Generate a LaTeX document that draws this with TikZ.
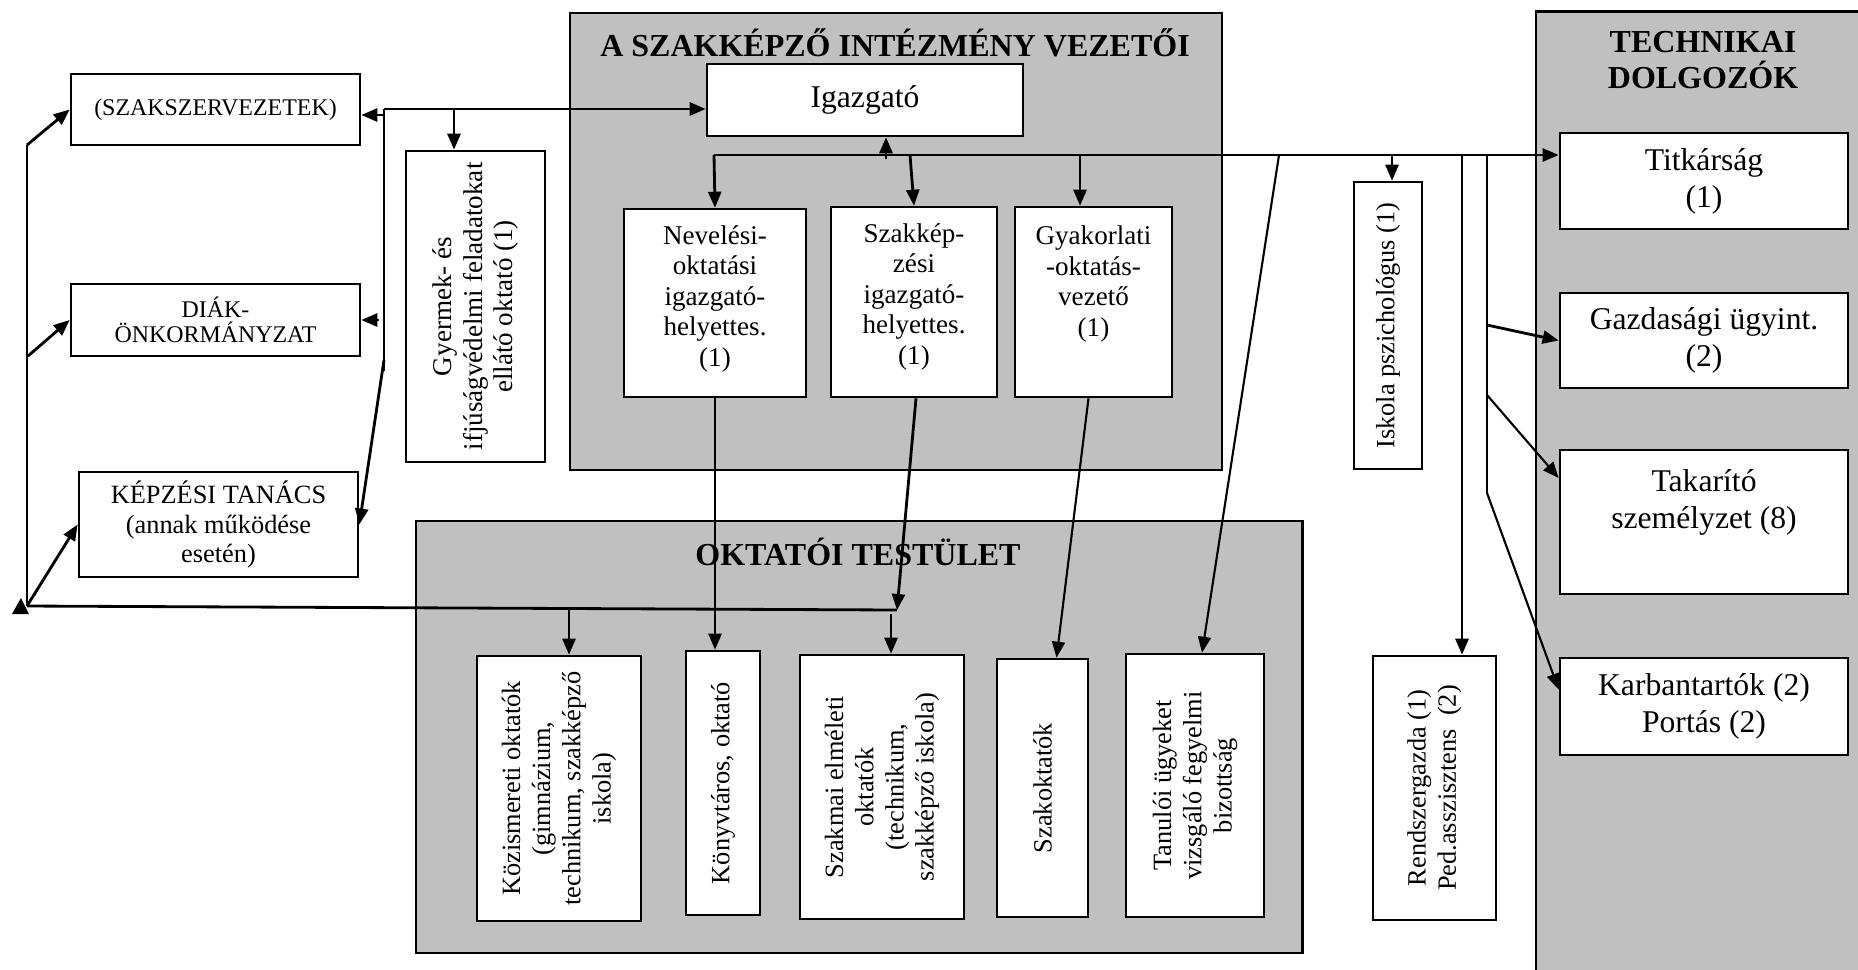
\documentclass[tikz,border=0pt]{standalone}
\usepackage{fontspec}
\setmainfont{Liberation Serif}
\usepackage{xcolor}
\definecolor{cPanel}{HTML}{C0C0C0}
\definecolor{cLine}{HTML}{000000}
\usepackage{tikz}
\usetikzlibrary{arrows.meta,calc}
\newcommand\fsSmall{\fontsize{6.8pt}{7.1pt}\selectfont}
\newcommand\fsKepz{\fontsize{7.5pt}{8.5pt}\selectfont}
\newcommand\fsMid{\fontsize{7.7pt}{8.65pt}\selectfont}
\newcommand\fsRot{\fontsize{7.5pt}{8.6pt}\selectfont}
\newcommand\fsBig{\fontsize{9pt}{10.5pt}\selectfont}
\newcommand\fsTitle{\fontsize{9.1pt}{10.2pt}\selectfont}
\tikzset{
  node-box/.style={draw=cLine,line width=0.7pt,fill=white,align=center,
    inner sep=0pt},
  node-panel/.style={draw=cLine,line width=0.7pt,fill=cPanel,inner sep=0pt},
  node-title/.style={font=\fsTitle\bfseries,align=center},
  % rotated boxes: with rotate=90 the page top is .east, the page bottom .west
  node-rot/.style={node-box,rotate=90,font=\fsRot},
  arrow/.style={-{Triangle[length=1.6mm,width=1.3mm]},line width=0.8pt,draw=cLine},
  line/.style={line width=0.8pt,draw=cLine},
}

\begin{document}
\begin{tikzpicture}[x=0.01cm,y=-0.01cm]
  \useasboundingbox (0,0) rectangle (1858,969);
  \clip (0,0) rectangle (1858,969);

  % panels
  \node[node-panel,minimum width=6.52cm,minimum height=4.57cm] (vez)  at (896,241.5) {};
  \node[node-panel,minimum width=8.86cm,minimum height=4.32cm] (okt)  at (859,737) {};
  \node[node-panel,minimum width=3.44cm,minimum height=9.78cm] (tech) at (1708,501) {};
  \node[node-title] (vez-title)  at (895,43)  {A SZAKKÉPZŐ INTÉZMÉNY VEZETŐI};
  \node[node-title] (okt-title)  at (858,552) {OKTATÓI TESTÜLET};
  \node[node-title] (tech-title) at (1703,60) {TECHNIKAI\\DOLGOZÓK};

  % left column
  \node[node-box,font=\fsSmall,minimum width=2.89cm,minimum height=0.71cm] (szak) at (215.5,109.5) {(SZAKSZERVEZETEK)};
  \node[node-box,font=\fsSmall,minimum width=2.89cm,minimum height=0.72cm] (diak) at (215.5,320) {DIÁK-\\ÖNKORMÁNYZAT};
  \node[node-box,font=\fsKepz,minimum width=2.79cm,minimum height=1.05cm] (kepz) at (218.5,524.5) {KÉPZÉSI TANÁCS\\(annak működése\\esetén)};
  \node[node-rot,font=\fsMid,minimum width=3.11cm,minimum height=1.39cm] (gyer) at (475.5,306.5) {Gyermek- és\\ifjúságvédelmi feladatokat\\ellátó oktató (1)};

  % leaders (text height/depth measured from the last line)
  \node[node-box,font=\fsBig,minimum width=3.16cm,minimum height=0.72cm] (ig) at (865,100) {Igazgató};
  \node[node-box,font=\fsMid,minimum width=1.82cm,text height=1.57cm,text depth=0.31cm] (nev) at (715,303) {Nevelési-\\oktatási\\igazgató-\\helyettes.\\(1)};
  \node[node-box,font=\fsMid,minimum width=1.66cm,text height=1.57cm,text depth=0.33cm] (szk) at (914,302) {Szakkép-\\zési\\igazgató-\\helyettes.\\(1)};
  \node[node-box,font=\fsMid,minimum width=1.57cm,text height=1.29cm,text depth=0.61cm] (gyak) at (1093.5,302) {Gyakorlati\\-oktatás-\\vezető\\(1)};

  % teaching staff
  \node[node-rot,minimum width=2.65cm,minimum height=1.64cm] (koz)  at (559,788.5) {Közismereti oktatók\\(gimnázium,\\technikum, szakképző\\iskola)};
  \node[node-rot,minimum width=2.64cm,minimum height=0.74cm] (kony) at (723,783)   {Könyvtáros, oktató};
  \node[node-rot,minimum width=2.64cm,minimum height=1.64cm] (szm)  at (882,787)   {Szakmai elméleti\\oktatók\\(technikum,\\szakképző iskola)};
  \node[node-rot,minimum width=2.58cm,minimum height=0.91cm] (szo)  at (1042.5,788) {Szakoktatók};
  \node[node-rot,minimum width=2.63cm,minimum height=1.38cm] (tan)  at (1195,785.5) {Tanulói ügyeket\\vizsgáló fegyelmi\\bizottság};
  \node[node-rot,minimum width=2.87cm,minimum height=0.68cm] (isk)  at (1388,325.5) {Iskola pszichológus (1)};
  \node[node-rot,minimum width=2.64cm,minimum height=1.23cm] (rend) at (1434.5,788) {Rendszergazda (1)\\Ped.asszisztens\ \ (2)};

  % technical staff
  \node[node-box,font=\fsBig,minimum width=2.88cm,minimum height=0.96cm] (tit) at (1704,181)   {Titkárság\\(1)};
  \node[node-box,font=\fsBig,minimum width=2.88cm,minimum height=0.95cm] (gaz) at (1704,340.5) {Gazdasági ügyint.\\(2)};
  \node[node-box,font=\fsBig,minimum width=2.88cm,text height=0.78cm,text depth=0.66cm] (tak) at (1704,522) {Takarító\\személyzet (8)};
  \node[node-box,font=\fsBig,minimum width=2.88cm,minimum height=0.97cm] (kar) at (1704,706.5) {Karbantartók (2)\\Portás (2)};

  % left rail
  \coordinate (l-top) at (27,145);
  \coordinate (l-mid) at (28,356);
  \coordinate (l-bot) at (27,606);
  \draw[line]  (l-top) -- (l-bot);
  \draw[arrow] (l-top) -- (szak.west);
  \draw[arrow] (l-mid) -- (diak.west);
  \draw[arrow] (l-bot) -- (kepz.west);
  \fill[cLine] (12,614) -- (21,598) -- (29,614) -- cycle;

  % middle rail
  \coordinate (m-top)  at (384,109);
  \coordinate (m-szak) at (384,115);
  \coordinate (m-diak) at (379,320);
  \coordinate (m-kepz) at (384,360);
  \coordinate (m-bot)  at (384,371);
  \coordinate (m-gyer) at (454,109);
  \draw[line]  (m-top) -- (m-bot);
  \draw[arrow] (m-szak) -- (m-szak -| szak.east);
  \draw[arrow] (m-diak) -- (diak.east);
  \draw[arrow] (m-kepz) -- (kepz.east);
  \draw[arrow] (m-top) -- (m-top -| ig.west);
  \draw[arrow] (m-gyer) -- (m-gyer |- gyer.east);

  % bus under the director
  \coordinate (b-left) at (714,155);
  \coordinate (b-ig)   at (886,159);
  \coordinate (b-szk)  at (910,155);
  \coordinate (b-gyak) at (1080,155);
  \coordinate (b-tan)  at (1279,155);
  \coordinate (b-isk)  at (1392,155);
  \coordinate (b-rend) at (1462,155);
  \coordinate (b-tech) at (1487,155);
  \draw[arrow] (b-left) -- (b-left -| tit.west);
  \draw[arrow] (b-ig) -- (b-ig |- ig.south);
  \draw[arrow] (b-left) -- (nev.north);
  \draw[arrow] (b-szk) -- (szk.north);
  \draw[arrow] (b-gyak) -- (b-gyak |- gyak.north);
  \draw[arrow,line width=0.6pt] (b-tan) -- ([xshift=0.07cm]tan.east);
  \draw[arrow] (b-isk) -- (b-isk |- isk.east);
  \draw[arrow] (b-rend) -- (b-rend |- rend.east);

  % technical staff rail
  \coordinate (t-gaz) at (1487,325);
  \coordinate (t-tak) at (1487,395);
  \coordinate (t-kar) at (1487,493);
  \draw[line,line width=0.6pt] (b-tech) -- (t-kar);
  \draw[arrow] (t-gaz) -- (gaz.west);
  \draw[arrow,line width=0.6pt] (t-tak) -- ($(tak.north west)!0.2!(tak.south west)$);
  \draw[arrow,line width=0.6pt] (t-kar) -- ($(kar.north west)!0.33!(kar.south west)$);

  % down to the teaching staff
  \coordinate (o-bus) at (897,610);
  \coordinate (o-koz) at (569,609);
  \coordinate (o-szm) at (891,614);
  \draw[line]  (o-bus) -- (l-bot);
  \draw[arrow] (nev.south) -- (nev.south |- kony.east);
  \draw[arrow] ([xshift=0.02cm]szk.south) -- (o-bus);
  \draw[arrow] (o-koz) -- (o-koz |- koz.east);
  \draw[arrow] (o-szm) -- (o-szm |- szm.east);
  \draw[arrow,line width=0.6pt] ([xshift=-0.05cm]gyak.south) -- ([xshift=0.14cm]szo.east);
\end{tikzpicture}
\end{document}
